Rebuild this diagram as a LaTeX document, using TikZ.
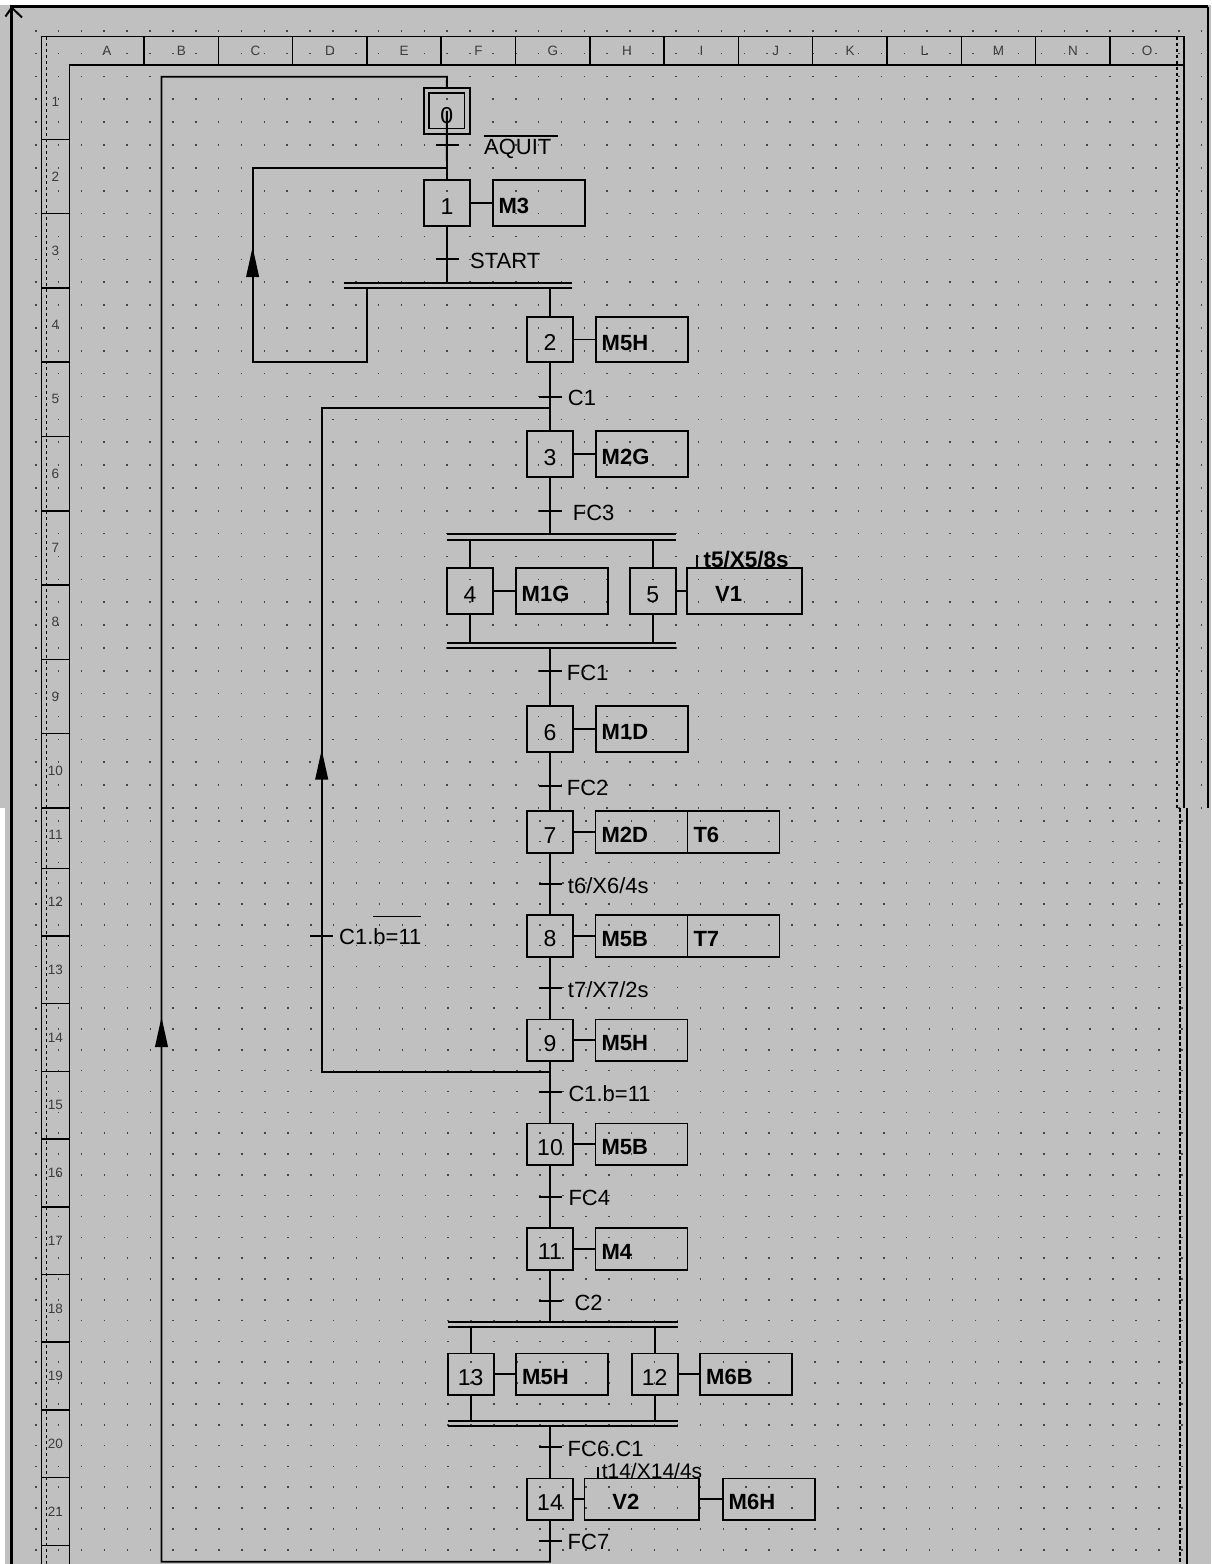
\documentclass[tikz,border=0pt]{standalone}
\usepackage{fontspec}
\setmainfont{Liberation Sans}
\usetikzlibrary{positioning,arrows.meta,fit}

\begin{document}
\begin{tikzpicture}[x=1pt,y=-1pt,line join=miter,
  link/.style={line width=1.9pt},
  bar/.style={line width=1.8pt},
  frame/.style={line width=1.5pt},
  dashrule/.style={line width=1.3pt,dash pattern=on 3.5pt off 2.5pt},
  gridtop/.style={draw=dotink,line width=1.6pt,dash pattern=on 1.6pt off 21.26pt},
  gridlow/.style={draw=dotink,line width=1.6pt,dash pattern=on 1.6pt off 21.32pt},
  stepbox/.style={draw,line width=1.8pt,minimum width=46pt,minimum height=45.7pt,
    inner sep=0pt,outer sep=0pt,font=\fontsize{23pt}{27pt}\selectfont,
    text height=22pt,text depth=0pt},
  lowbox/.style={minimum height=41.6pt},
  actbox/.style={draw,line width=1.8pt,minimum height=45.7pt,text width=80pt,
    inner xsep=6pt,inner ysep=0pt,outer sep=0pt,align=left,
    font=\bfseries\fontsize{22pt}{26pt}\selectfont,text height=21pt,text depth=0pt},
  timedbox/.style={actbox,text width=58.5pt,inner xsep=28pt},
  translab/.style={anchor=west,inner sep=0pt,font=\fontsize{22pt}{26pt}\selectfont,
    text height=18pt,text depth=0pt},
  durlab/.style={anchor=west,inner sep=0pt,text height=16pt,text depth=0pt},
  flowtip/.style={line width=1.9pt,-{Triangle[length=30pt,width=12.6pt]}},
  collab/.style={text=rulerink,font=\fontsize{13.5pt}{15pt}\selectfont,inner sep=0pt}]
\definecolor{screengray}{RGB}{192,192,192}
\definecolor{dotink}{RGB}{70,70,70}
\definecolor{rulerink}{RGB}{60,60,60}

\newcommand{\ovl}[2]{\setbox0\hbox{#2}\rlap{\raisebox{\dimexpr\ht0+#1\relax}{\rule{\wd0}{1.5pt}}}\box0}
\newcommand{\trtick}[1]{\draw[link] ([xshift=-11.5pt]#1) -- ([xshift=11.5pt]#1);}
\newcommand{\dbar}[3]{
  \draw[bar] (#1,#3) -- (#2,#3);
  \draw[bar] (#1,#3+5.6) -- (#2,#3+5.6);
}

\useasboundingbox (0,0) rectangle (1211,1564);
\fill[screengray] (0,0) rectangle (1211,1564);
\fill[white] (0,0) rectangle (1211,5.2);
\fill[white] (0,808) rectangle (4.5,1564);

% dot grid (upper and lower screen)
\foreach \k in {0,...,34}
  \draw[gridtop] (34.9,30.7+22.86*\k) -- (1203,30.7+22.86*\k);
\foreach \k in {0,...,35}
  \draw[gridlow] (34.9,820.7+20.83*\k) -- (1203,820.7+20.83*\k);

% sheet frame
\draw[line width=3pt] (11.7,1564) -- (11.7,6.7) -- (1208,6.7);
\draw[line width=2pt] (1208,6.7) -- (1208,808);
\draw[line width=2pt] (5.5,16.5) -- (11.7,7.5) -- (22,17.5);
\draw[frame] (41.7,1564) -- (41.7,36.7) -- (1184,36.7) -- (1184,808);
\draw[frame] (1187,808) -- (1187,1564);
\draw[frame] (69.5,1564) -- (69.5,65) -- (1184,65);
\draw[dashrule] (46.7,36.7) -- (46.7,1564);
\draw[dashrule] (1177,36.7) -- (1177,808);
\draw[dashrule] (1180,808) -- (1180,1564);

% column and row rulers
\foreach \i in {0,...,13}
  \draw[frame] (144+74.3*\i,36.7) -- (144+74.3*\i,65);
\foreach \c [count=\i from 0] in {A,B,C,D,E,F,G,H,I,J,K,L,M,N,O}
  \node[collab] (col\c) at (107+74.3*\i,50.5) {\c};
\foreach \r in {1,...,10}
  \draw[frame] (41.7,65+74.3*\r) -- (69.5,65+74.3*\r);
\foreach \r in {0,...,10}
  \draw[frame] (41.7,868.3+67.7*\r) -- (69.5,868.3+67.7*\r);
\foreach \r in {1,...,10}
  \node[collab] (row\r) at (55.5,27.85+74.3*\r) {\r};
\foreach \r in {11,...,21}
  \node[collab] (row\r) at (55.5,89.75+67.7*\r) {\r};

% steps
\node[stepbox,minimum size=35.2pt,text height=26pt] (s0) at (446.8,110.9) {0};
\node[draw,line width=1.8pt,inner sep=5.55pt,outer sep=0pt,fit=(s0)] (s0o) {};
\node[stepbox] (s1) at (447,203) {1};
\node[stepbox] (s2) at (550,339.5) {2};
\node[stepbox] (s3) at (550,454) {3};
\node[stepbox] (s4) at (470,591.2) {4};
\node[stepbox] (s5) at (652.7,591.2) {5};
\node[stepbox] (s6) at (550,729) {6};
\node[stepbox,lowbox] (s7) at (550,832) {7};
\node[stepbox,lowbox] (s8) at (550,935.8) {8};
\node[stepbox,lowbox] (s9) at (550,1040.2) {9};
\node[stepbox,lowbox] (s10) at (550,1144.3) {10};
\node[stepbox,lowbox] (s11) at (550,1248.8) {11};
\node[stepbox,lowbox] (s13) at (470.7,1374.2) {13};
\node[stepbox,lowbox] (s12) at (654.7,1374.2) {12};
\node[stepbox,lowbox] (s14) at (550,1499.3) {14};

% actions
\node[actbox,right=22.6pt of s1] (a1) {M3};
\node[actbox,right=22.7pt of s2] (a2) {M5H};
\node[actbox,right=22.7pt of s3] (a3) {M2G};
\node[actbox,right=22.7pt of s4] (a4) {M1G};
\node[timedbox,right=11.5pt of s5] (a5) {V1};
\node[actbox,right=22.7pt of s6] (a6) {M1D};
\node[actbox,lowbox,right=22.5pt of s7] (a7) {M2D};
\node[actbox,lowbox,right=0pt of a7] (a7b) {T6};
\node[actbox,lowbox,right=22.5pt of s8] (a8) {M5B};
\node[actbox,lowbox,right=0pt of a8] (a8b) {T7};
\node[actbox,lowbox,right=22.5pt of s9] (a9) {M5H};
\node[actbox,lowbox,right=22.5pt of s10] (a10) {M5B};
\node[actbox,lowbox,right=22.5pt of s11] (a11) {M4};
\node[actbox,lowbox,right=22.5pt of s13] (a13) {M5H};
\node[actbox,lowbox,right=22.5pt of s12] (a12) {M6B};
\node[timedbox,lowbox,right=11.4pt of s14] (a14) {V2};
\node[actbox,lowbox,right=23.8pt of a14] (a14b) {M6H};

\node[durlab,font=\bfseries\fontsize{22.5pt}{26pt}\selectfont] (d5) at (703.5,559) {t5/X5/8s};
\node[durlab,font=\fontsize{21pt}{25pt}\selectfont] (d14) at (601.6,1470.7) {t14/X14/4s};
\coordinate (d5k) at ([xshift=-6.5pt,yshift=4pt]d5.west);
\coordinate (d14k) at ([xshift=-3.8pt,yshift=3.4pt]d14.west);
\draw[link] (d5k) -- (d5k |- a5.north);
\draw[link] (d14k) -- (d14k |- a14.north);

% transitions
\coordinate (c0) at (447,145);
\coordinate (c1) at (447,259.3);
\coordinate (c2) at (550,396.7);
\coordinate (c3) at (550,511);
\coordinate (c4) at (550,671);
\coordinate (c5) at (550,786);
\coordinate (c6) at (550,884);
\coordinate (c7) at (550,988.3);
\coordinate (c8) at (550,1092.3);
\coordinate (c9) at (550,1196.7);
\coordinate (c10) at (550,1301);
\coordinate (c11) at (550,1447.3);
\coordinate (c12) at (550,1540.7);
\coordinate (cb) at (321.7,935.7);

\node[translab] (t0) at ([xshift=37pt]c0) {\ovl{2pt}{AQUIT\hspace{7pt}}};
\node[translab] (t1) at ([xshift=23pt]c1) {START};
\node[translab] (t2) at ([xshift=17.7pt]c2) {C1};
\node[translab] (t3) at ([xshift=22.7pt]c3) {FC3};
\node[translab] (t4) at ([xshift=16.7pt]c4) {FC1};
\node[translab] (t5) at ([xshift=16.7pt]c5) {FC2};
\node[translab] (t6) at ([xshift=17.7pt]c6) {t6/X6/4s};
\node[translab] (t7) at ([xshift=17.7pt]c7) {t7/X7/2s};
\node[translab] (t8) at ([xshift=18.3pt]c8) {C1.b=11};
\node[translab] (t9) at ([xshift=18.3pt]c9) {FC4};
\node[translab] (t10) at ([xshift=24.3pt]c10) {C2};
\node[translab] (t11) at ([xshift=17.5pt]c11) {FC6.C1};
\node[translab] (t12) at ([xshift=17.5pt]c12) {FC7};
\node[translab] (tb) at ([xshift=17.3pt]cb) {C1.\ovl{11.5pt}{b=11}};

\foreach \c in {c0,c1,c2,c3,c4,c5,c6,c7,c8,c9,c10,c11,c12,cb}
  {\trtick{\c}}

% divergence and convergence bars
\coordinate (bar1t) at (0,282.7);
\coordinate (bar1b) at (0,288.3);
\coordinate (bar2t) at (0,534.3);
\coordinate (bar2b) at (0,540);
\coordinate (bar3t) at (0,642.7);
\coordinate (bar3b) at (0,648.3);
\coordinate (bar4t) at (0,1321.7);
\coordinate (bar4b) at (0,1327.3);
\coordinate (bar5t) at (0,1420.7);
\coordinate (bar5b) at (0,1426.3);
\dbar{343.5}{571.7}{282.7}
\dbar{446.7}{676}{534.3}
\dbar{446.7}{676}{642.7}
\dbar{447.7}{677.5}{1321.7}
\dbar{447.7}{677.5}{1420.7}

% loop points
\coordinate (top0) at (447,76.7);
\coordinate (back0) at (161.5,1561.7);
\coordinate (j1) at (447,168.3);
\coordinate (br1) at (366.7,288.3);
\coordinate (lp1) at (252.6,361.7);
\coordinate (j2) at (550,407.7);
\coordinate (j9) at (550,1071.7);
\coordinate (lp2) at (321.7,1071.7);
\coordinate (up1) at (252.6,247);
\coordinate (up2) at (321.7,749.5);
\coordinate (up3) at (161.5,1017);

% links
\draw[link] (s0.center) -- (s1.north);
\draw[link] (s1.south) -- (s1.south |- bar1t);
\draw[link] (s2.north |- bar1b) -- (s2.north);
\draw[link] (br1) |- (lp1) |- (j1);
\draw[link] (s2) -- (s3);
\draw[link] (s3.south) -- (s3.south |- bar2t);
\draw[link] (s4.north |- bar2b) -- (s4.north);
\draw[link] (s5.north |- bar2b) -- (s5.north);
\draw[link] (s4.south) -- (s4.south |- bar3t);
\draw[link] (s5.south) -- (s5.south |- bar3t);
\draw[link] (s6.north |- bar3b) -- (s6.north);
\draw[link] (s6) -- (s7);
\draw[link] (s7) -- (s8);
\draw[link] (s8) -- (s9);
\draw[link] (s9) -- (s10);
\draw[link] (s10) -- (s11);
\draw[link] (s11.south) -- (s11.south |- bar4t);
\draw[link] (s13.north |- bar4b) -- (s13.north);
\draw[link] (s12.north |- bar4b) -- (s12.north);
\draw[link] (s13.south) -- (s13.south |- bar5t);
\draw[link] (s12.south) -- (s12.south |- bar5t);
\draw[link] (s14.north |- bar5b) -- (s14.north);
\draw[link] (s14.south) |- (back0) |- (top0) -- (s0o.north);
\draw[link] (j9) -- (lp2) |- (j2);

\foreach \s/\a in {s1/a1,s2/a2,s3/a3,s4/a4,s5/a5,s6/a6,s7/a7,s8/a8,s9/a9,s10/a10,s11/a11,s13/a13,s12/a12,s14/a14,a14/a14b}
  \draw[link] (\s) -- (\a);

\draw[flowtip] ([yshift=-30pt]up1) -- (up1);
\draw[flowtip] ([yshift=-30pt]up2) -- (up2);
\draw[flowtip] ([yshift=-30pt]up3) -- (up3);
\end{tikzpicture}
\end{document}
